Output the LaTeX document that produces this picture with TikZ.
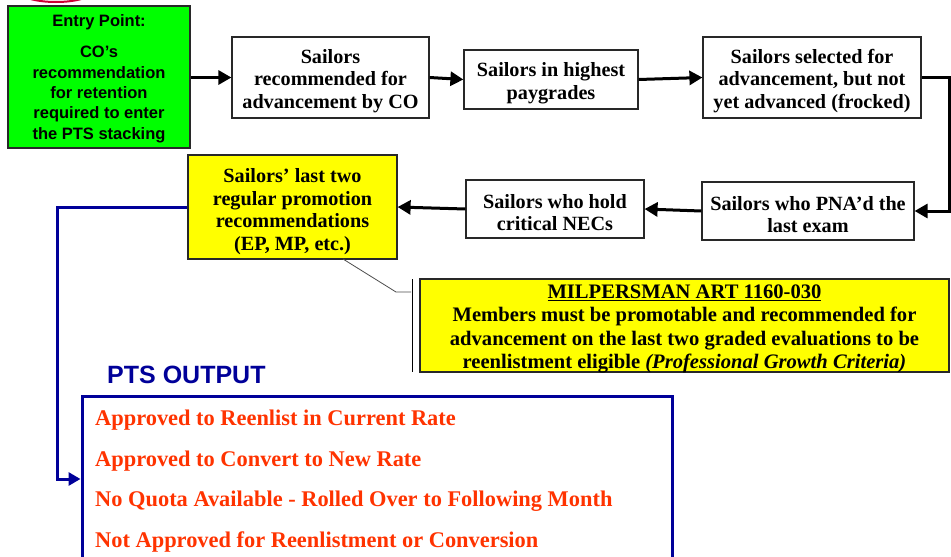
\documentclass[tikz,border=0pt]{standalone}
\usepackage{fontspec}
\setmainfont{Liberation Serif}
\newfontfamily\arialfont{Liberation Sans}
\usetikzlibrary{arrows.meta}
\definecolor{boxgreen}{RGB}{0,255,0}
\definecolor{boxyellow}{RGB}{255,255,0}
\definecolor{navy}{RGB}{0,0,153}
\definecolor{outred}{RGB}{255,51,0}
\definecolor{edgegray}{RGB}{40,40,40}
\definecolor{topred}{RGB}{204,0,51}
\begin{document}
\begin{tikzpicture}[x=1pt,y=-1pt,
  frame/.style={draw=edgegray,line width=1.2pt,fill=white,inner sep=0pt},
  boxtext/.style={inner sep=0pt,align=center,yshift=-3.5pt,
    font=\fontsize{20.2}{22.6}\selectfont\bfseries},
  flow/.style={line width=3pt,-{Triangle[length=13pt,width=14pt]}},
  blueflow/.style={navy,line width=3pt,-{Triangle[length=12pt,width=13pt]}},
  outtext/.style={anchor=west,inner sep=0pt,text=outred,font=\fontsize{22.4}{25}\selectfont\bfseries}]
\useasboundingbox (0,0) rectangle (951,557);
% partial red shape at top
\draw[topred,line width=2pt,fill=white] (56,-9) ellipse [x radius=37, y radius=11];
% boxes
\node[frame,fill=boxgreen,minimum width=182pt,minimum height=142pt] (g) at (99,77) {};
\node[inner sep=0pt,align=center,font=\arialfont\fontsize{16.5}{20.4}\selectfont\bfseries] (gt) at ([yshift=-1.5pt]g.center)
  {Entry Point:\\[11pt]CO’s\\recommendation\\for retention\\required to enter\\the PTS stacking};
\node[frame,minimum width=197pt,minimum height=81pt] (b2) at (330.5,77.5) {};
\node[boxtext] (b2t) at (b2.center) {Sailors\\recommended for\\advancement by CO};
\node[frame,minimum width=174pt,minimum height=59pt] (b3) at (551,79.5) {};
\node[boxtext] (b3t) at (b3.center) {Sailors in highest\\paygrades};
\node[frame,minimum width=218pt,minimum height=81pt] (b4) at (812,77.5) {};
\node[boxtext] (b4t) at (b4.center) {Sailors selected for\\advancement, but not\\yet advanced (frocked)};
\node[frame,minimum width=212pt,minimum height=58pt] (b5) at (808,211) {};
\node[boxtext] (b5t) at (b5.center) {Sailors who PNA’d the\\last exam};
\node[frame,minimum width=178pt,minimum height=58pt] (b6) at (555,209) {};
\node[boxtext] (b6t) at (b6.center) {Sailors who hold\\critical NECs};
\node[frame,fill=boxyellow,minimum width=209pt,minimum height=104pt] (y7) at (292.5,207) {};
\node[boxtext,yshift=-1pt] (y7t) at (y7.center) {Sailors’ last two\\regular promotion\\recommendations\\(EP, MP, etc.)};
\node[frame,fill=boxyellow,minimum width=529pt,minimum height=93pt] (mil) at (684.5,325.5) {};
\node[boxtext,font=\fontsize{20.6}{23.2}\selectfont\bfseries] (milt) at (mil.center)
  {\underline{MILPERSMAN ART 1160-030}\\Members must be promotable and recommended for\\advancement on the last two graded evaluations to be\\reenlistment eligible \textit{(Professional Growth Criteria)}};
% callout
\coordinate (c1) at (343,259);
\coordinate (c2) at (396,292);
\coordinate (c3) at (411,292);
\coordinate (c4) at (412,279);
\coordinate (c5) at (412,372);
\draw[gray!60!black,line width=0.8pt] (c1) -- (c2) -- (c3);
\draw[black,line width=1pt] (c4) -- (c5);
% flow arrows
\coordinate (r1) at (949,77.5);
\draw[flow] (g.east |- b2.west) -- (b2.west);
\draw[flow] (b2.east) -- (b3.west);
\draw[flow] (b3.east) -- (b4.west);
\draw[flow] (b4.east) -- (r1) |- (b5.east);
\draw[flow] (b5.west) -- (b6.east);
\draw[flow] (b6.west) -- (y7.east);
% output
\node[anchor=base west,inner sep=0pt,text=navy,font=\arialfont\fontsize{25}{30}\selectfont\bfseries] (pts) at (107,383) {PTS OUTPUT};
\node[draw=navy,line width=3pt,minimum width=590pt,minimum height=166pt,inner sep=0pt] (out) at (377,479) {};
\node[outtext] (o1) at (95,420) {Approved to Reenlist in Current Rate};
\node[outtext] (o2) at (95,461) {Approved to Convert to New Rate};
\node[outtext] (o3) at (95,501) {No Quota Available - Rolled Over to Following Month};
\node[outtext] (o4) at (95,542) {Not Approved for Reenlistment or Conversion};
\coordinate (l1) at (57,207);
\draw[blueflow] (y7.west) -- (l1) |- (out.west);
\end{tikzpicture}
\end{document}
